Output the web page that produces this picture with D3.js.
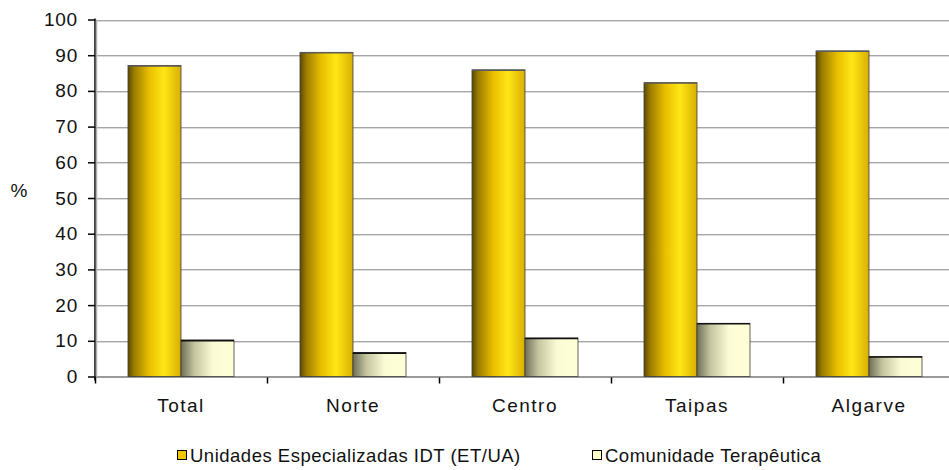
<!doctype html>
<html lang="pt">
<head>
<meta charset="utf-8">
<script src="https://d3js.org/d3.v7.min.js"></script>
<style>
  body { margin: 0; background: #fff; }
  svg { display: block; font-family: "Liberation Sans", Arial, sans-serif; }
</style>
</head>
<body>
<svg width="949" height="470"></svg>
<script>
// data
var categories = ["Total", "Norte", "Centro", "Taipas", "Algarve"];
var seriesNames = ["Unidades Especializadas IDT (ET/UA)", "Comunidade Terapêutica"];
var unidades = [87.1, 90.8, 85.9, 82.3, 91.2];
var comunidade = [10.2, 6.7, 10.8, 14.9, 5.6];
var yTicks = [0, 10, 20, 30, 40, 50, 60, 70, 80, 90, 100];

var svg = d3.select("svg");
var plotLeft = 95, plotTop = 19.5, plotBottom = 376.5;
var bandW = 172;

var x = d3.scaleBand().domain(categories).range([plotLeft, plotLeft + bandW * categories.length]);
var xs = d3.scaleBand().domain(seriesNames).range([33, 139]);
var y = d3.scaleLinear().domain([0, 100]).range([plotBottom, plotTop]);

var defs = svg.append("defs");
var g1 = defs.append("linearGradient").attr("id", "gold");
[[0, "#5e4b00"], [0.12, "#9c7d00"], [0.4, "#e8bf00"], [0.68, "#ffe617"], [1, "#d8ae00"]].forEach(function (s) {
  g1.append("stop").attr("offset", s[0]).attr("stop-color", s[1]);
});
var g2 = defs.append("linearGradient").attr("id", "cream");
[[0, "#6f6f58"], [0.25, "#c4c4a0"], [0.6, "#fbfbd6"], [1, "#ffffd6"]].forEach(function (s) {
  g2.append("stop").attr("offset", s[0]).attr("stop-color", s[1]);
});

// gridlines
var grid = svg.append("g");
grid.selectAll("line.sh").data(yTicks.slice(1)).enter().append("line")
  .attr("x1", plotLeft).attr("x2", 949)
  .attr("y1", function (d) { return Math.round(y(d)) + 1.5; })
  .attr("y2", function (d) { return Math.round(y(d)) + 1.5; })
  .attr("stroke", "#dcdcdc").attr("stroke-width", 1);
grid.selectAll("line.gl").data(yTicks.slice(1)).enter().append("line")
  .attr("x1", plotLeft).attr("x2", 949)
  .attr("y1", function (d) { return Math.round(y(d)) + 0.5; })
  .attr("y2", function (d) { return Math.round(y(d)) + 0.5; })
  .attr("stroke", "#a6a6a6").attr("stroke-width", 1);

// baseline
svg.append("line").attr("x1", plotLeft).attr("x2", 949)
  .attr("y1", plotBottom + 0.5).attr("y2", plotBottom + 0.5)
  .attr("stroke", "#9a9a9a").attr("stroke-width", 2);

// bars
var rows = categories.map(function (c, i) { return { cat: c, vals: [unidades[i], comunidade[i]] }; });
var fills = ["url(#gold)", "url(#cream)"];
var grp = svg.append("g").selectAll("g").data(rows).enter().append("g")
  .attr("transform", function (d) { return "translate(" + x(d.cat) + ",0)"; });
grp.selectAll("rect").data(function (d) {
  return d.vals.map(function (v, j) { return { s: seriesNames[j], v: v, j: j }; });
}).enter().append("rect")
  .attr("x", function (d) { return xs(d.s); })
  .attr("width", xs.bandwidth())
  .attr("y", function (d) { return y(d.v); })
  .attr("height", function (d) { return y(0) - y(d.v); })
  .attr("fill", function (d) { return fills[d.j]; })
  .attr("stroke", "#3a3a3a").attr("stroke-width", 0.8);
// darker top edge
grp.selectAll("line.top").data(function (d) {
  return d.vals.map(function (v, j) { return { s: seriesNames[j], v: v, j: j }; });
}).enter().append("line")
  .attr("x1", function (d) { return xs(d.s); })
  .attr("x2", function (d) { return xs(d.s) + xs.bandwidth(); })
  .attr("y1", function (d) { return y(d.v) + 0.5; })
  .attr("y2", function (d) { return y(d.v) + 0.5; })
  .attr("stroke", function (d) { return d.j ? "#111" : "#5a5a5a"; })
  .attr("stroke-width", function (d) { return d.j ? 1.6 : 1.2; });

// y axis
var yAxis = svg.append("g").attr("transform", "translate(" + plotLeft + ",0)")
  .call(d3.axisLeft(y).tickValues(yTicks).tickSize(7).tickPadding(10));
yAxis.select(".domain").attr("stroke", "#000").attr("stroke-width", 1.5)
  .attr("d", "M0," + (plotTop - 1) + "V" + (plotBottom + 4));
yAxis.selectAll(".tick line").attr("stroke", "#000").attr("stroke-width", 1.5);
yAxis.selectAll("text").attr("font-size", 19).attr("fill", "#111")
  .attr("letter-spacing", 0.8)
  .attr("font-family", "Liberation Sans, Arial, sans-serif");
svg.append("line").attr("x1", plotLeft + 1.5).attr("x2", plotLeft + 1.5)
  .attr("y1", plotTop).attr("y2", plotBottom).attr("stroke", "#b0b0b0").attr("stroke-width", 1.5);

// x axis ticks at band boundaries
var xAxis = svg.append("g").attr("transform", "translate(0," + (plotBottom + 1) + ")");
xAxis.selectAll("line").data(categories).enter().append("line")
  .attr("x1", function (d) { return x(d) + 0.5; })
  .attr("x2", function (d) { return x(d) + 0.5; })
  .attr("y1", 0).attr("y2", 6)
  .attr("stroke", "#000").attr("stroke-width", 1.5);
xAxis.selectAll("text").data(categories).enter().append("text")
  .attr("x", function (d) { return x(d) + x.bandwidth() / 2; })
  .attr("y", 34)
  .attr("text-anchor", "middle").attr("font-size", 19).attr("letter-spacing", 1.5)
  .attr("fill", "#111")
  .text(function (d) { return d; });

// y title
svg.append("text").attr("x", 19).attr("y", 197).attr("text-anchor", "middle")
  .attr("font-size", 19).attr("fill", "#111").text("%");

// legend
var legendX = [177, 592];
var lg = svg.append("g").selectAll("g").data(seriesNames).enter().append("g")
  .attr("transform", function (d, i) { return "translate(" + legendX[i] + ",450)"; });
lg.append("rect").attr("x", 0.5).attr("y", 0.5).attr("width", 9).attr("height", 9)
  .attr("fill", function (d, i) { return i ? "#ffffc8" : "#f2c500"; })
  .attr("stroke", "#000").attr("stroke-width", 1);
lg.append("text").attr("x", 13).attr("y", 12).attr("font-size", 18.5)
  .attr("letter-spacing", 0.5).attr("fill", "#111").text(function (d) { return d; });
</script>
</body>
</html>
